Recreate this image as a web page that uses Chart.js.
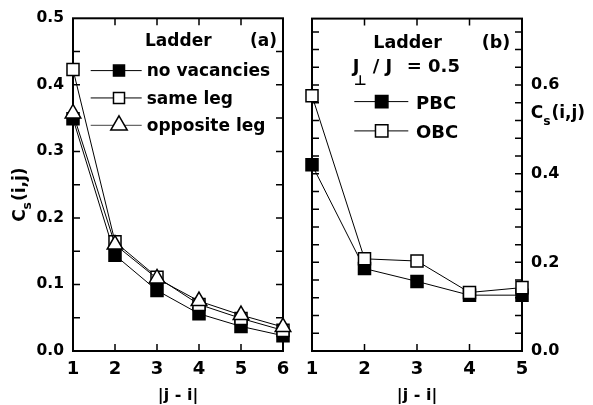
<!DOCTYPE html>
<html>
<head>
<meta charset="utf-8">
<script src="https://cdn.jsdelivr.net/npm/chart.js@4/dist/chart.umd.min.js"></script>
<style>
  html, body { margin: 0; padding: 0; background: #fff; }
  #wrap { position: relative; width: 593px; height: 405px; overflow: hidden; background: #fff; }
  #wrap canvas { position: absolute; top: 0; }
  #chartA { left: 0; }
  #chartB { left: 295px; }
</style>
</head>
<body>
<div id="wrap">
  <canvas id="chartA" width="300" height="405"></canvas>
  <canvas id="chartB" width="298" height="405"></canvas>
</div>
<script>
// ---- Panel (a): ladder, spin correlation vs. separation ----
const distA = [1, 2, 3, 4, 5, 6];
const noVacancies = [0.349, 0.144, 0.091, 0.056, 0.037, 0.023];
const sameLeg     = [0.423, 0.164, 0.111, 0.070, 0.049, 0.031];
const oppositeLeg = [0.357, 0.160, 0.109, 0.075, 0.054, 0.036];
const xLabelsA = [1, 2, 3, 4, 5, 6];
const yLabelsA = [0.0, 0.1, 0.2, 0.3, 0.4, 0.5];
const yMarksA  = [0.05, 0.1, 0.15, 0.2, 0.25, 0.3, 0.35, 0.4, 0.45];

// ---- Panel (b): ladder J_perp/J = 0.5, periodic vs open boundaries ----
const distB = [1, 2, 3, 4, 5];
const pbc = [0.420, 0.186, 0.157, 0.126, 0.126];
const obc = [0.576, 0.208, 0.203, 0.132, 0.143];
const xLabelsB = [1, 2, 3, 4, 5];
const yLabelsB = [0.0, 0.2, 0.4, 0.6];
const yMarksB  = [0.04, 0.08, 0.12, 0.16, 0.2, 0.24, 0.28, 0.32, 0.36, 0.4,
                  0.44, 0.48, 0.52, 0.56, 0.6, 0.64, 0.68, 0.72];

const FAMILY = "'DejaVu Sans', 'Liberation Sans', sans-serif";
const bold = px => `bold ${px}px ${FAMILY}`;

function points(xs, ys) { return xs.map((x, i) => ({ x: x, y: ys[i] })); }

function series(label, xs, ys, style, filled, radius, order) {
  return {
    label: label,
    data: points(xs, ys),
    borderColor: '#000',
    borderWidth: 1,
    pointStyle: style,
    pointRadius: radius,
    pointBorderWidth: 1.5,
    pointBorderColor: '#000',
    pointBackgroundColor: filled ? '#000' : '#fff',
    tension: 0,
    fill: false,
    clip: false,
    order: order
  };
}

// marker shapes used in the in-plot legends (same geometry as Chart.js points)
function marker(ctx, style, x, y, r, filled) {
  ctx.beginPath();
  if (style === 'rect') {
    const s = r * Math.SQRT1_2;
    ctx.rect(x - s, y - s, 2 * s, 2 * s);
  } else {
    let a = 0;
    ctx.moveTo(x + Math.sin(a) * r, y - Math.cos(a) * r);
    a += 2 * Math.PI / 3;
    ctx.lineTo(x + Math.sin(a) * r, y - Math.cos(a) * r);
    a += 2 * Math.PI / 3;
    ctx.lineTo(x + Math.sin(a) * r, y - Math.cos(a) * r);
    ctx.closePath();
  }
  ctx.fillStyle = filled ? '#000' : '#fff';
  ctx.fill();
  ctx.lineWidth = 1.5;
  ctx.strokeStyle = '#000';
  ctx.stroke();
}

function legendRow(ctx, x0, x1, xm, y, style, r, filled, text, size, lineColor) {
  ctx.save();
  ctx.strokeStyle = lineColor || '#000';
  ctx.lineWidth = 1;
  ctx.beginPath();
  ctx.moveTo(x0, y); ctx.lineTo(x1, y);
  ctx.stroke();
  marker(ctx, style, xm, y, r, filled);
  ctx.restore();
}

function text(ctx, str, x, y, size, align) {
  ctx.font = bold(size);
  ctx.fillStyle = '#000';
  ctx.textAlign = align || 'left';
  ctx.textBaseline = 'alphabetic';
  ctx.fillText(str, x, y);
}

// "C" with subscript "s" followed by "(i,j)", starting at x on baseline y
function csLabel(ctx, x, y, size, centered) {
  const sub = size * 0.72;
  ctx.font = bold(size);
  const wC = ctx.measureText('C').width;
  const wR = ctx.measureText('(i,j)').width;
  ctx.font = bold(sub);
  const wS = ctx.measureText('s').width;
  const total = wC + wS + 1 + wR;
  let sx = centered ? x - total / 2 : x;
  text(ctx, 'C', sx, y, size);
  text(ctx, 's', sx + wC, y + size * 0.38, sub);
  text(ctx, '(i,j)', sx + wC + wS + 1, y, size);
}

// frame and inward tick marks on all four sides
function frameAndTicks(chart, xMarks, yMarks) {
  const { ctx, chartArea: a, scales } = chart;
  const len = 7;
  ctx.save();
  ctx.strokeStyle = '#000';
  ctx.lineWidth = 1.5;
  ctx.beginPath();
  xMarks.forEach(v => {
    const px = scales.x.getPixelForValue(v);
    if (px <= a.left + 1 || px >= a.right - 1) return;
    ctx.moveTo(px, a.bottom); ctx.lineTo(px, a.bottom - len);
    ctx.moveTo(px, a.top); ctx.lineTo(px, a.top + len);
  });
  yMarks.forEach(v => {
    const py = scales.y.getPixelForValue(v);
    if (py <= a.top + 1 || py >= a.bottom - 1) return;
    ctx.moveTo(a.left, py); ctx.lineTo(a.left + len, py);
    ctx.moveTo(a.right, py); ctx.lineTo(a.right - len, py);
  });
  ctx.stroke();
  ctx.lineWidth = 2;
  ctx.strokeRect(a.left, a.top, a.right - a.left, a.bottom - a.top);
  ctx.restore();
}

function axes(xs, ys, yPos, yWidth, xTickSize, yTickSize) {
  return {
    x: {
      type: 'linear',
      min: xs[0], max: xs[xs.length - 1],
      afterBuildTicks: s => { s.ticks = xs.map(v => ({ value: v })); },
      grid: { display: false, drawTicks: false },
      border: { display: false },
      ticks: { color: '#000', font: { family: FAMILY, size: xTickSize, weight: 'bold' },
               padding: 8, maxRotation: 0, autoSkip: false, callback: v => String(v) },
      title: { display: true, text: '|j - i|', color: '#000',
               font: { family: FAMILY, size: 16, weight: 'bold', lineHeight: 1.2 },
               padding: { top: 0, bottom: 0 } },
      afterFit: s => { s.height = 54; }
    },
    y: {
      type: 'linear',
      position: yPos,
      min: 0, max: yPos === 'left' ? 0.5 : 0.75,
      afterBuildTicks: s => { s.ticks = ys.map(v => ({ value: v })); },
      grid: { display: false, drawTicks: false },
      border: { display: false },
      ticks: { color: '#000', font: { family: FAMILY, size: yTickSize, weight: 'bold' },
               padding: 9, autoSkip: false, callback: v => v.toFixed(1) },
      afterFit: s => { s.width = yWidth; }
    }
  };
}

// ---------- chart (a) ----------
new Chart(document.getElementById('chartA'), {
  type: 'line',
  data: {
    datasets: [
      series('no vacancies', distA, noVacancies, 'rect', true, 8.5, 2),
      series('same leg', distA, sameLeg, 'rect', false, 8.5, 1),
      series('opposite leg', distA, oppositeLeg, 'triangle', false, 9, 0)
    ]
  },
  options: {
    responsive: false,
    animation: false,
    events: [],
    layout: { padding: { left: 0, right: 17, top: 17, bottom: 0 } },
    plugins: { legend: { display: false }, tooltip: { enabled: false } },
    scales: axes(xLabelsA, yLabelsA, 'left', 73, 18, 15.5)
  },
  plugins: [{
    id: 'panelA',
    beforeDatasetsDraw(chart) { frameAndTicks(chart, xLabelsA, yMarksA); },
    afterDraw(chart) {
      const ctx = chart.ctx, a = chart.chartArea;
      ctx.save();
      text(ctx, 'Ladder', a.left + 72, a.top + 28, 17);
      text(ctx, '(a)', a.left + 177, a.top + 28, 17);
      const rows = [
        ['no vacancies', 'rect', 7.8, true, '#000'],
        ['same leg', 'rect', 7.8, false, '#000'],
        ['opposite leg', 'triangle', 9.5, false, '#444']
      ];
      rows.forEach((r, i) => {
        const y = a.top + 52.3 + i * 27.35;
        legendRow(ctx, a.left + 17.7, a.left + 68.7, a.left + 46, y, r[1], r[2], r[3], r[0], 17, r[4]);
        text(ctx, r[0], a.left + 73.7, y + 5.7, 17);
      });
      // rotated axis title
      ctx.save();
      ctx.translate(25, (a.top + a.bottom) / 2 + 10);
      ctx.rotate(-Math.PI / 2);
      csLabel(ctx, 0, 0, 17, true);
      ctx.restore();
      ctx.restore();
    }
  }]
});

// ---------- chart (b) ----------
new Chart(document.getElementById('chartB'), {
  type: 'line',
  data: {
    datasets: [
      series('PBC', distB, pbc, 'rect', true, 8.5, 1),
      series('OBC', distB, obc, 'rect', false, 8.5, 0)
    ]
  },
  options: {
    responsive: false,
    animation: false,
    events: [],
    layout: { padding: { left: 17, right: 0, top: 17, bottom: 0 } },
    plugins: { legend: { display: false }, tooltip: { enabled: false } },
    scales: axes(xLabelsB, yLabelsB, 'right', 71, 18, 16)
  },
  plugins: [{
    id: 'panelB',
    beforeDatasetsDraw(chart) { frameAndTicks(chart, xLabelsB, yMarksB); },
    afterDraw(chart) {
      const ctx = chart.ctx, a = chart.chartArea;
      ctx.save();
      text(ctx, 'Ladder', a.left + 61.3, a.top + 29.7, 17.5);
      text(ctx, '(b)', a.left + 169.7, a.top + 29.7, 17.5);
      text(ctx, 'J', a.left + 40.7, a.top + 53, 18);
      text(ctx, '\u22A5', a.left + 42, a.top + 66.5, 14);
      text(ctx, '/ J', a.left + 60.7, a.top + 53, 18);
      text(ctx, '= 0.5', a.left + 94.7, a.top + 53, 18);
      const rows = [['PBC', true], ['OBC', false]];
      rows.forEach((r, i) => {
        const y = a.top + 83 + i * 29.3;
        legendRow(ctx, a.left + 42.3, a.left + 96.3, a.left + 69.7, y, 'rect', 8.8, r[1], r[0], 18);
        text(ctx, r[0], a.left + 104, y + 7.5, 18);
      });
      csLabel(ctx, a.right + 8.7, a.top + 99.7, 17, false);
      ctx.restore();
    }
  }]
});
</script>
</body>
</html>
